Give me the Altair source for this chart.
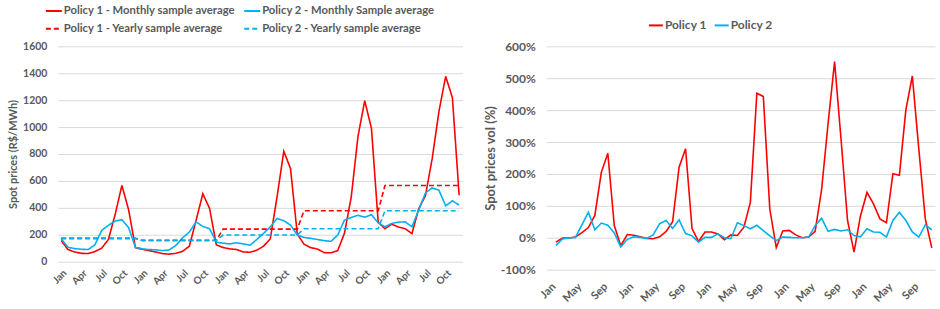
import json
import altair as alt
import pandas as pd

# ---------------- data ----------------
# Left chart: monthly spot prices (R$/MWh), 5 years x 12 months
p1_monthly = [157, 90, 72, 62, 60, 75, 100, 165, 350, 567, 385, 105,
              92, 82, 72, 60, 56, 62, 77, 115, 307, 505, 395, 125,
              105, 95, 90, 72, 70, 85, 115, 170, 480, 820, 692, 205,
              130, 104, 94, 67, 66, 82, 212, 480, 930, 1196, 990, 292,
              245, 278, 258, 245, 208, 393, 490, 765, 1115, 1377, 1218, 493]
p2_monthly = [170, 107, 97, 92, 90, 125, 232, 270, 302, 312, 252, 107,
              95, 90, 88, 82, 87, 120, 177, 220, 295, 262, 245, 145,
              137, 132, 140, 132, 122, 165, 210, 259, 321, 304, 272, 198,
              180, 173, 165, 156, 151, 198, 309, 328, 345, 330, 349, 288,
              259, 284, 294, 296, 259, 383, 511, 548, 531, 415, 452, 420]
# yearly sample averages (one value per year)
p1_yearly = [173, 158, 242, 378, 566]
p2_yearly = [173, 157, 198, 245, 378]

# Right chart: monthly spot price volatility (%), starts at month index 1 (Feb)
p1_vol = [-14, -1, -1, 2, 16, 32, 70, 205, 265, 38, -25,
          10, 8, 3, -2, -3, 3, 20, 50, 221, 279, 29, -12,
          18, 18, 12, -6, 9, 7, 33, 111, 453, 443, 90, -31,
          21, 23, 9, 0, 2, 20, 152, 359, 552, 308, 54, -45,
          69, 142, 106, 59, 47, 201, 196, 401, 507, 278, 59, -32]
p2_vol = [-24, -4, -1, 1, 40, 80, 25, 46, 39, 15, -29,
          -5, 3, 1, -2, 9, 44, 54, 29, 56, 13, 6, -14,
          1, 1, 12, 0, -3, 47, 38, 28, 39, 22, 6, -9,
          2, 1, 0, 0, 2, 38, 61, 20, 26, 21, 25, 7,
          3, 28, 18, 17, 2, 54, 80, 54, 18, 2, 40, 25]
vol_start = 1

left_tick_labels = ["Jan", "Apr", "Jul", "Oct"]
right_tick_labels = ["Jan", "May", "Sep"]

P1M = "Policy 1 - Monthly sample average"
P2M = "Policy 2 - Monthly Sample average"
P1Y = "Policy 1 - Yearly sample average"
P2Y = "Policy 2 - Yearly sample average"
# legend is filled column by column: column 1 = Policy 1, column 2 = Policy 2
left_legend_order = [P1M, P1Y, P2M, P2Y]
right_series = ["Policy 1", "Policy 2"]

RED = "#FF0000"
BLUE = "#00B0F0"
GREY = "#595959"
GRID = "#D9D9D9"
FONT = "Lato"

# ---------------- tables ----------------
rows = []
for name, vals in [(P1M, p1_monthly), (P2M, p2_monthly)]:
    for i, v in enumerate(vals):
        rows.append({"idx": i, "value": v, "series": name})
for name, yv in [(P1Y, p1_yearly), (P2Y, p2_yearly)]:
    for y, v in enumerate(yv):
        for m in range(12):
            rows.append({"idx": y * 12 + m, "value": v, "series": name})
left_df = pd.DataFrame(rows)

rrows = []
for name, vals in [(right_series[0], p1_vol), (right_series[1], p2_vol)]:
    for i, v in enumerate(vals):
        rrows.append({"idx": i + vol_start, "value": v, "series": name})
right_df = pd.DataFrame(rrows)

# ---------------- left chart ----------------
left_legend = alt.Legend(
    title=None, orient="none", legendX=-13, legendY=-44.7, columns=2, padding=0,
    symbolType="stroke", symbolSize=256, symbolStrokeWidth=2,
    labelOffset=1, columnPadding=4, rowPadding=3,
    labelFont=FONT, labelFontSize=11.3, labelFontWeight="bold", labelColor=GREY,
    labelLimit=400,
)

dash_range = {P1M: [1, 0], P2M: [1, 0], P1Y: [5, 3], P2Y: [5, 3]}
color_range = {P1M: RED, P2M: BLUE, P1Y: RED, P2Y: BLUE}

left = alt.Chart(left_df).mark_line(strokeWidth=1.6).encode(
    x=alt.X("idx:Q",
            scale=alt.Scale(domain=[-0.5, 59.5], nice=False, zero=False),
            axis=alt.Axis(values=list(range(0, 60, 3)),
                          labelExpr=f"{json.dumps(left_tick_labels)}[round(datum.value / 3) % 4]",
                          labelAngle=-45, labelAlign="right", labelBaseline="top",
                          labelPadding=6, labelOverlap=False, labelFlush=False, labelBound=False,
                          grid=False, domain=False, ticks=False, tickSize=0, title=None,
                          labelFont=FONT, labelFontSize=10, labelFontWeight="bold",
                          labelColor=GREY)),
    y=alt.Y("value:Q",
            scale=alt.Scale(domain=[0, 1600], nice=False),
            axis=alt.Axis(values=list(range(0, 1601, 200)), format="d",
                          title="Spot prices (R$/MWh)",
                          grid=True, gridColor=GRID, gridWidth=1, domain=False, ticks=False,
                          tickSize=0, labelPadding=11, titlePadding=4,
                          labelFont=FONT, labelFontSize=10.5, labelFontWeight="bold",
                          labelColor=GREY, titleFont=FONT, titleFontSize=11,
                          titleFontWeight="bold", titleColor=GREY)),
    color=alt.Color("series:N",
                    scale=alt.Scale(domain=left_legend_order,
                                    range=[color_range[s] for s in left_legend_order]),
                    legend=left_legend),
    strokeDash=alt.StrokeDash("series:N",
                              scale=alt.Scale(domain=left_legend_order,
                                              range=[dash_range[s] for s in left_legend_order]),
                              legend=left_legend),
).properties(width=406, height=216)

# ---------------- right chart ----------------
right_legend = alt.Legend(
    title=None, orient="none", legendX=102, legendY=-29, columns=2, padding=0,
    symbolType="stroke", symbolSize=196, symbolStrokeWidth=2,
    labelOffset=1, columnPadding=3,
    labelFont=FONT, labelFontSize=12, labelFontWeight="bold", labelColor=GREY,
)

right = alt.Chart(right_df).mark_line(strokeWidth=1.6).encode(
    x=alt.X("idx:Q",
            scale=alt.Scale(domain=[-0.5, 59.5], nice=False, zero=False),
            axis=alt.Axis(values=list(range(0, 60, 4)),
                          labelExpr=f"{json.dumps(right_tick_labels)}[round(datum.value / 4) % 3]",
                          labelAngle=-45, labelAlign="right", labelBaseline="top",
                          labelPadding=11, labelOverlap=False, labelFlush=False, labelBound=False,
                          grid=False, domain=False, ticks=False, tickSize=0, title=None,
                          labelFont=FONT, labelFontSize=11, labelFontWeight="bold",
                          labelColor=GREY)),
    y=alt.Y("value:Q",
            scale=alt.Scale(domain=[-100, 600], nice=False),
            axis=alt.Axis(values=list(range(-100, 601, 100)), labelExpr="datum.value + '%'",
                          title="Spot prices vol (%)",
                          grid=True, gridColor=GRID, gridWidth=1, domain=False, ticks=False,
                          tickSize=0, labelPadding=11, titlePadding=3,
                          labelFont=FONT, labelFontSize=12, labelFontWeight="bold",
                          labelColor=GREY, titleFont=FONT, titleFontSize=13,
                          titleFontWeight="bold", titleColor=GREY)),
    color=alt.Color("series:N",
                    scale=alt.Scale(domain=right_series, range=[RED, BLUE]),
                    legend=right_legend),
).properties(width=390, height=224)

chart = alt.hconcat(left, right, spacing=84, bounds="flush").resolve_scale(
    color="independent", strokeDash="independent", x="independent", y="independent"
).configure_view(stroke=None).properties(
    padding={"left": 7, "top": 1, "right": 5, "bottom": 5},
    background="white",
)

chart.save("out.html", embed_options={"renderer": "svg", "actions": False})
